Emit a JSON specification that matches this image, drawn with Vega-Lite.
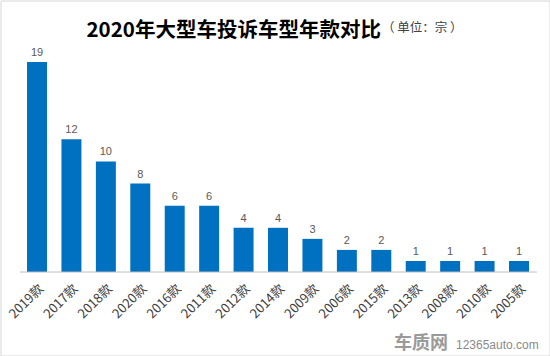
{
  "$schema": "https://vega.github.io/schema/vega-lite/v6.json",
  "width": 549,
  "height": 355,
  "autosize": "none",
  "padding": 0.5,
  "background": "white",
  "config": {"view": {"stroke": "#d6d6d6", "strokeWidth": 1}, "font": "Noto Sans CJK SC"},
  "title": {"text": "2020年大型车投诉车型年款对比", "anchor": "start", "frame": "group", "dx": 86, "offset": -57, "baseline": "alphabetic", "fontSize": 20.5, "fontWeight": "bold", "color": "#000000", "font": "Noto Sans CJK SC"},
  "data": {"values": [
    {"year": "2019款", "count": 19},
    {"year": "2017款", "count": 12},
    {"year": "2018款", "count": 10},
    {"year": "2020款", "count": 8},
    {"year": "2016款", "count": 6},
    {"year": "2011款", "count": 6},
    {"year": "2012款", "count": 4},
    {"year": "2014款", "count": 4},
    {"year": "2009款", "count": 3},
    {"year": "2006款", "count": 2},
    {"year": "2015款", "count": 2},
    {"year": "2013款", "count": 1},
    {"year": "2008款", "count": 1},
    {"year": "2010款", "count": 1},
    {"year": "2005款", "count": 1}
  ]},
  "layer": [
    {
      "mark": {"type": "bar", "color": "#0070C0"},
      "encoding": {
        "x": {"field": "year", "type": "nominal", "sort": null,
          "scale": {"domain": ["2019款","2017款","2018款","2020款","2016款","2011款","2012款","2014款","2009款","2006款","2015款","2013款","2008款","2010款","2005款"], "paddingInner": 0.42, "paddingOuter": 0.683, "align": 0.564},
          "axis": {"orient": "bottom", "offset": -83.5, "domain": false, "ticks": false, "grid": false, "labelAngle": -45, "labelFontSize": 13, "labelColor": "#404040", "labelPadding": 10, "labelOverlap": false,
            "title": "车质网", "titleX": 393, "titleY": 76, "titleAlign": "left", "titleBaseline": "alphabetic", "titleFontSize": 18, "titleFontWeight": "bold", "titleColor": "#9a9a9a"}},
        "y": {"field": "count", "type": "quantitative",
          "scale": {"domain": [-7.55, 24.56], "nice": false, "zero": false},
          "axis": {"orient": "left", "domain": false, "ticks": false, "labels": false, "grid": false,
            "title": "（ 单位：宗 ）", "titleAngle": 0, "titleX": 381, "titleY": 30.5, "titleAlign": "left", "titleBaseline": "alphabetic", "titleFontSize": 12.5, "titleFontWeight": "normal", "titleColor": "#404040"}}
      }
    },
    {
      "mark": {"type": "text", "baseline": "bottom", "dy": -4, "font": "Liberation Sans", "fontSize": 11, "color": "#595959"},
      "encoding": {
        "x": {"field": "year", "type": "nominal", "sort": null},
        "y": {"field": "count", "type": "quantitative",
          "axis": {"orient": "right", "domain": false, "ticks": false, "labels": false, "grid": false,
            "title": "12365auto.com", "titleAngle": 0, "titleX": -94, "titleY": 347.5, "titleAlign": "left", "titleBaseline": "alphabetic", "titleFont": "Liberation Sans", "titleFontSize": 12, "titleFontWeight": "normal", "titleColor": "#8a8a8a"}},
        "text": {"field": "count", "type": "quantitative"}
      }
    },
    {
      "data": {"values": [{"year": "2019款", "year2": "2005款", "count": 0}]},
      "mark": {"type": "rule", "color": "#bfbfbf", "strokeWidth": 1},
      "encoding": {
        "x": {"field": "year", "type": "nominal", "sort": null, "bandPosition": -0.35},
        "x2": {"field": "year2", "bandPosition": 1.4},
        "y": {"field": "count", "type": "quantitative", "axis": null}
      }
    }
  ],
  "resolve": {"axis": {"y": "independent"}}
}
